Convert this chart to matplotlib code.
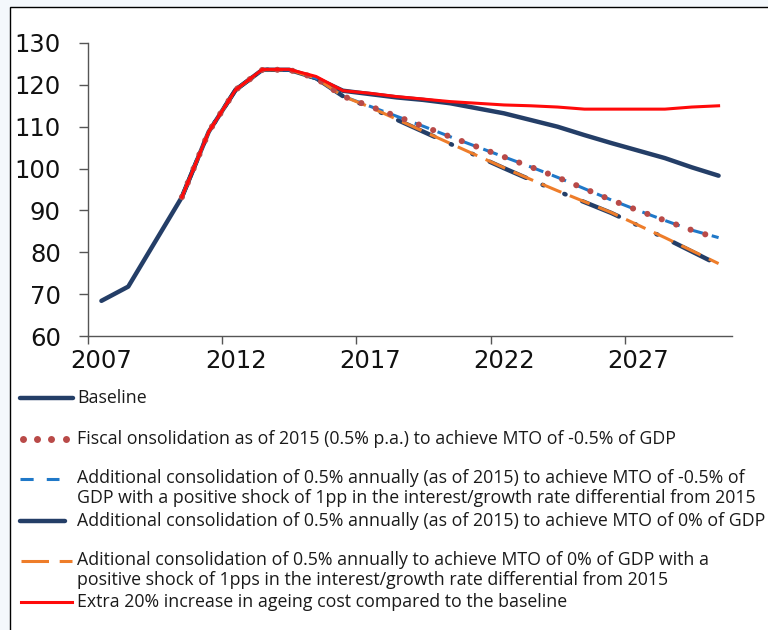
import numpy as np
import matplotlib
matplotlib.use("Agg")
import matplotlib.pyplot as plt
from matplotlib import font_manager
from matplotlib.patches import Rectangle

years = list(range(2007, 2031))

baseline = [68.4, 71.8, 82.5, 93.2, 108.8, 118.8, 123.6, 123.6, 121.6, 118.6,
            117.8, 117.0, 116.4, 115.6, 114.4, 113.2, 111.6, 110.0, 108.0, 106.1,
            104.3, 102.5, 100.3, 98.3]
# scenarios start in 2010, history identical to baseline
scen_years = years[3:]
hist = [93.2, 108.8, 118.8, 123.6, 123.6, 121.6]
fiscal = hist + [117.3, 114.9, 112.5, 110.1, 107.6, 105.2, 102.8, 100.4, 97.9,
                 95.2, 92.5, 90.0, 87.6, 85.3, 83.3]
shock_05 = hist + [117.3, 114.9, 112.5, 110.1, 107.6, 105.2, 102.8, 100.4, 97.9,
                   95.2, 92.5, 90.0, 87.6, 85.3, 83.5]
mto_0 = hist + [117.3, 114.6, 111.7, 108.8, 105.9, 103.0, 100.1, 97.3, 94.6,
                92.0, 89.4, 86.4, 83.4, 80.2, 77.0]
shock_0 = hist + [117.3, 114.7, 111.8, 108.9, 106.0, 103.1, 100.2, 97.4, 94.7,
                  92.1, 89.5, 86.5, 83.5, 80.4, 77.3]
ageing = [93.2, 108.8, 118.8, 123.7, 123.7, 122.0, 118.6, 118.0, 117.2, 116.6,
          116.0, 115.6, 115.2, 115.0, 114.7, 114.2, 114.2, 114.2, 114.2, 114.7, 115.0]

labels = [
    "Baseline",
    "Fiscal onsolidation as of 2015 (0.5% p.a.) to achieve MTO of -0.5% of GDP",
    "Additional consolidation of 0.5% annually (as of 2015) to achieve MTO of -0.5% of\n"
    "GDP with a positive shock of 1pp in the interest/growth rate differential from 2015",
    "Additional consolidation of 0.5% annually (as of 2015) to achieve MTO of 0% of GDP",
    "Aditional consolidation of 0.5% annually to achieve MTO of 0% of GDP with a\n"
    "positive shock of 1pps in the interest/growth rate differential from 2015",
    "Extra 20% increase in ageing cost compared to the baseline",
]

NAVY = "#243e67"
DOTS = "#b94a48"
BLUE = "#1f78c8"
ORANGE = "#ee7d2a"
RED = "#ff0a0a"

installed = {f.name for f in font_manager.fontManager.ttflist}
leg_font = "Liberation Sans Narrow" if "Liberation Sans Narrow" in installed else "Open Sans"
leg_size = 12.2 if leg_font == "Liberation Sans Narrow" else 12.8

fig = plt.figure(figsize=(7.68, 6.30), dpi=100)
fig.patch.set_facecolor("#f4f8fc")
# white chart area with border
fig.add_artist(Rectangle((10 / 768, -0.01), 1.0, 1 - 7 / 630 + 0.01,
                         transform=fig.transFigure, facecolor="white",
                         edgecolor="black", linewidth=1.0, zorder=0))

ax = fig.add_axes([88 / 768, 294 / 630, (732 - 88) / 768, (336 - 43) / 630])
ax.set_facecolor("none")
ax.set_zorder(2)

ax.plot(years, baseline, color=NAVY, lw=3.2, solid_capstyle="round", zorder=2)
ax.plot(scen_years, shock_05, color=BLUE, lw=2.2, ls=(0, (5, 3)), zorder=4)
ax.plot(scen_years, fiscal, color=DOTS, lw=4.4, ls=(0, (0.01, 2.5)),
        dash_capstyle="round", zorder=4.5)
ax.plot(scen_years, mto_0, color=NAVY, lw=3.2, ls=(0, (9, 4, 0.3, 5, 0.3, 4)),
        dash_capstyle="round", zorder=2)
ax.plot(scen_years, shock_0, color=ORANGE, lw=2.2, ls=(0, (7, 3)), zorder=4)
ax.plot(scen_years, ageing, color=RED, lw=2.2, zorder=5)

ax.set_xlim(2006.5, 2030.5)
ax.set_ylim(60, 130)
ax.set_yticks(np.arange(60, 131, 10))
ax.set_xticks(np.arange(2006.5, 2030, 5))
ax.set_xticklabels([])
ax.set_xticks(np.arange(2007, 2031, 5), minor=True)
ax.set_xticklabels([str(y) for y in range(2007, 2031, 5)], minor=True)
for s in ["top", "right"]:
    ax.spines[s].set_visible(False)
for s in ["left", "bottom"]:
    ax.spines[s].set_color("#555555")
    ax.spines[s].set_linewidth(1.0)
ax.tick_params(axis="y", direction="out", length=6.5, width=1.0, color="#555555",
               labelsize=17.5, pad=13, labelcolor="#111111")
ax.tick_params(axis="x", which="major", direction="out", length=6, width=1.0,
               color="#555555")
ax.tick_params(axis="x", which="minor", length=0, labelsize=17.5, pad=9,
               labelcolor="#111111")

# legend, laid out in figure pixels
lg = fig.add_axes([0, 0, 1, 1])
lg.set_xlim(0, 768)
lg.set_ylim(630, 0)
lg.axis("off")
lg.set_zorder(1)

rows = [398, 439, 479, 521, 561, 602]
lg.plot([20, 73], [rows[0]] * 2, color=NAVY, lw=3.2, solid_capstyle="round")
lg.plot([23, 37, 51, 66], [rows[1]] * 4, color=DOTS, lw=0, marker="o", ms=5,
        markeredgewidth=0)
lg.plot([20, 59], [rows[2]] * 2, color=BLUE, lw=2.2, ls=(0, (4.3, 4.3)))
lg.plot([20, 65], [rows[3]] * 2, color=NAVY, lw=3.2, solid_capstyle="round")
lg.plot([21, 72], [rows[4]] * 2, color=ORANGE, lw=2.2, ls=(0, (9, 3.5)))
lg.plot([21, 72], [rows[5]] * 2, color=RED, lw=2.2)

for y, t in zip(rows, labels):
    first_dy = -10 if "\n" in t else 0
    lg.text(77, y + first_dy, t, fontsize=leg_size, family=[leg_font, "DejaVu Sans"],
            va="top" if "\n" in t else "center", linespacing=1.15,
            color="#1a1a1a")

fig.savefig("out.png", dpi=100, facecolor=fig.get_facecolor())
